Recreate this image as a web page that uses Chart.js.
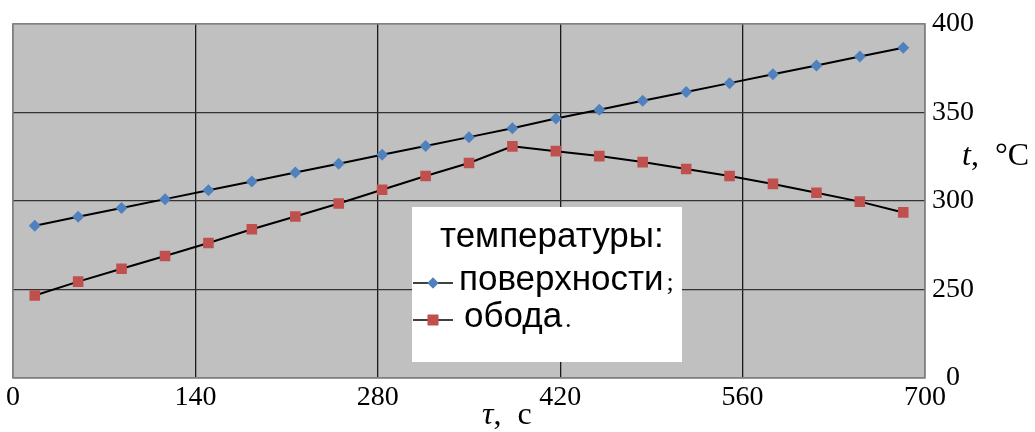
<!DOCTYPE html>
<html>
<head>
<meta charset="utf-8">
<script src="https://cdn.jsdelivr.net/npm/chart.js@4/dist/chart.umd.min.js"></script>
<style>
  html, body { margin:0; padding:0; background:#fff; }
  #wrap { width:1035px; height:432px; position:relative; }
</style>
</head>
<body>
<div id="wrap"><canvas id="c"></canvas></div>
<script>
// время, с (середины 21 интервала)
const timeS = [16.7, 50, 83.3, 116.7, 150, 183.3, 216.7, 250, 283.3, 316.7, 350,
               383.3, 416.7, 450, 483.3, 516.7, 550, 583.3, 616.7, 650, 683.3];
// температура поверхности, °C
const surfT = [286, 291, 296, 301, 306, 311, 316, 321, 326, 331, 336,
               341, 346.5, 351.5, 356.5, 361.5, 366.5, 371.5, 376.5, 381.5, 386.5];
// температура обода, °C
const rimT  = [246.6, 254.4, 261.7, 268.9, 276.2, 284, 291.2, 298.5, 306.3, 314.1, 321.4,
               330.8, 328.1, 325.3, 321.9, 318, 314.1, 309.6, 304.6, 299.6, 293.5];
const xTicks = [0, 140, 280, 420, 560, 700];
const yTicks = [200, 250, 300, 350, 400];   // 200 подписан как "0" (разрыв оси)

const legendTitle = 'температуры:';
const seriesNames = ['поверхности', 'обода'];
const BLUE = '#4f81bd', RED = '#c0504d';
const SERIF = '"Liberation Serif", "Times New Roman", serif';
const SANS = '"Liberation Sans", Arial, sans-serif';

const pts = (ys) => ys.map((y, i) => ({ x: timeS[i], y }));

const plotBg = {
  id: 'plotBg',
  beforeDraw(chart) {
    const { ctx, chartArea: a } = chart;
    ctx.save(); ctx.fillStyle = '#c0c0c0';
    ctx.fillRect(a.left, a.top, a.width, a.height); ctx.restore();
  },
  beforeDatasetsDraw(chart) {
    const { ctx, chartArea: a } = chart;
    ctx.save(); ctx.strokeStyle = '#808080'; ctx.lineWidth = 1.5;
    ctx.strokeRect(a.left, a.top, a.width, a.height); ctx.restore();
  }
};

function mixed(ctx, parts, x, y) {
  // parts: [text, italic]
  let cx = x;
  parts.forEach(([t, it]) => {
    ctx.font = (it ? 'italic ' : '') + '32px ' + SERIF;
    ctx.fillText(t, cx, y); cx += ctx.measureText(t).width;
  });
}

const extras = {
  id: 'extras',
  afterDraw(chart) {
    const { ctx } = chart;
    ctx.save();
    ctx.fillStyle = '#000'; ctx.textBaseline = 'middle'; ctx.textAlign = 'left';
    mixed(ctx, [['t', true], [',  °C', false]], 962, 157);
    mixed(ctx, [['τ', true], [',  с', false]], 482, 416);

    // легенда
    const bx = 412, by = 207, bw = 270, bh = 155;
    ctx.fillStyle = '#fff'; ctx.fillRect(bx, by, bw, bh);
    ctx.fillStyle = '#000';
    ctx.font = '35px ' + SANS;
    ctx.fillText(legendTitle, 440, 237);
    const rows = [
      { y: 283, tx: 459, name: seriesNames[0], tail: ';', color: BLUE, style: 'rectRot', r: 5.5 },
      { y: 320, tx: 464, name: seriesNames[1], tail: '.', color: RED, style: 'rect', r: 7.5 },
    ];
    rows.forEach(o => {
      ctx.strokeStyle = '#000'; ctx.lineWidth = 1.6;
      ctx.beginPath(); ctx.moveTo(413, o.y); ctx.lineTo(453, o.y); ctx.stroke();
      ctx.fillStyle = o.color;
      Chart.helpers.drawPoint(ctx, { pointStyle: o.style, radius: o.r, rotation: 0, borderWidth: 0 }, 433, o.y);
      ctx.fill();
      ctx.fillStyle = '#000'; ctx.font = '35px ' + SANS;
      ctx.fillText(o.name, o.tx, o.y - 3);
      const w = ctx.measureText(o.name).width;
      ctx.font = '26px ' + SERIF;
      ctx.fillText(o.tail, o.tx + w + 3, o.y);
    });
    ctx.restore();
  }
};

new Chart(document.getElementById('c'), {
  type: 'line',
  data: { datasets: [
    { label: seriesNames[0], data: pts(surfT), borderColor: '#000', borderWidth: 2,
      pointStyle: 'rectRot', pointRadius: 6, pointBackgroundColor: BLUE, pointBorderWidth: 0, tension: 0 },
    { label: seriesNames[1], data: pts(rimT), borderColor: '#000', borderWidth: 2,
      pointStyle: 'rect', pointRadius: 7.5, pointBackgroundColor: RED, pointBorderWidth: 0, tension: 0 },
  ]},
  options: {
    responsive: true, maintainAspectRatio: false, animation: false,
    layout: { padding: { left: 13, top: 20, right: 54, bottom: 0 } },
    plugins: { legend: { display: false }, tooltip: { enabled: false } },
    scales: {
      x: { type: 'linear', min: 0, max: 700,
        afterFit: s => { s.height = 54; },
        afterBuildTicks: s => { s.ticks = xTicks.map(v => ({ value: v })); },
        border: { display: false },
        grid: { drawTicks: false, lineWidth: 1.3,
          color: c => (c.tick && (c.tick.value === 0 || c.tick.value === 700)) ? '#808080' : '#1a1a1a' },
        ticks: { font: { family: SERIF, size: 28 }, color: '#000', padding: 3, maxRotation: 0 } },
      y: { position: 'right', min: 200, max: 400,
        afterFit: s => { s.width = 56; },
        afterBuildTicks: s => { s.ticks = yTicks.map(v => ({ value: v })); },
        border: { display: false },
        grid: { drawTicks: false, lineWidth: 1.3,
          color: c => (c.tick && (c.tick.value === 200 || c.tick.value === 400)) ? '#808080' : '#333' },
        ticks: { font: { family: SERIF, size: 28 }, color: '#000', padding: 7, crossAlign: 'center',
          callback: v => v === 200 ? '0' : String(v) } }
    }
  },
  plugins: [plotBg, extras]
});
</script>
</body>
</html>
